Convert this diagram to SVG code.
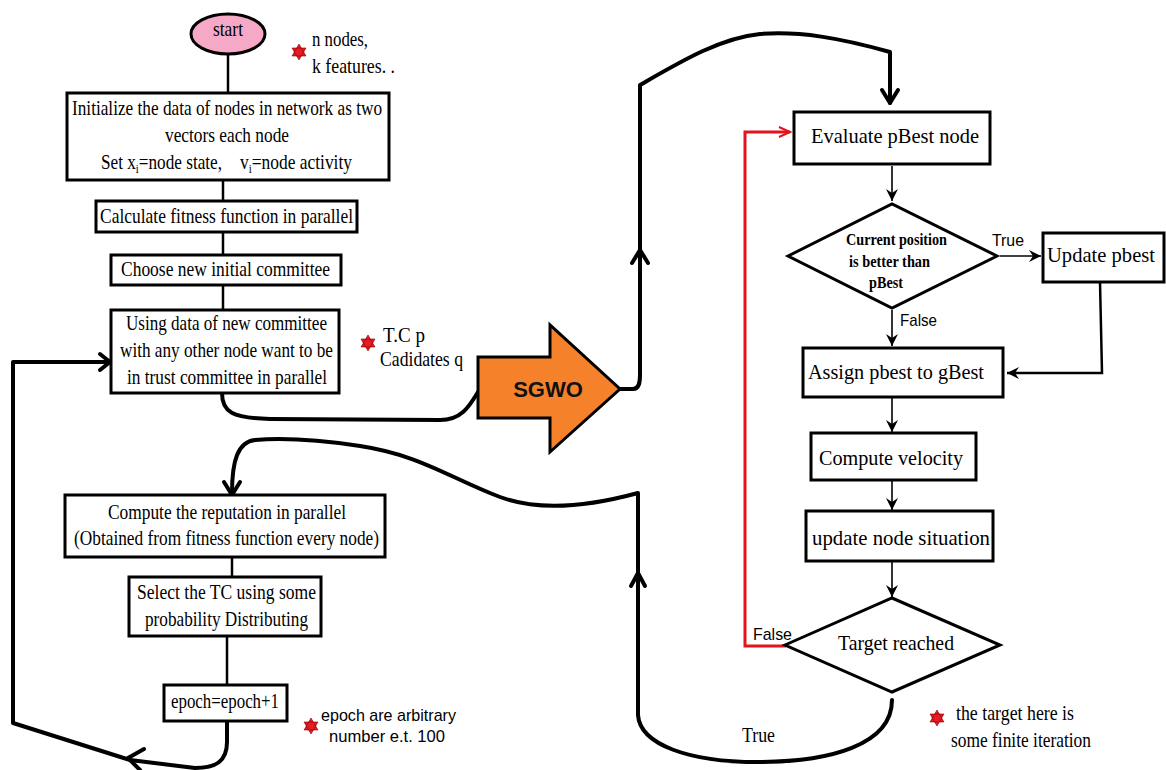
<svg xmlns="http://www.w3.org/2000/svg" xmlns:xlink="http://www.w3.org/1999/xlink" width="1166" height="770" viewBox="0 0 1166 770">
<style>
.box{fill:#fff;stroke:#000;stroke-width:3}
.t{font-family:"Liberation Serif",serif;font-size:21px;fill:#000}
.tb{font-family:"Liberation Serif",serif;font-size:17px;font-weight:bold;fill:#000}
.s{font-family:"Liberation Sans",sans-serif;font-size:17px;fill:#000}
.big{fill:none;stroke:#000;stroke-width:4;stroke-linecap:round;stroke-linejoin:round}
.thin{fill:none;stroke:#000;stroke-width:2.5}
.fine{fill:none;stroke:#000;stroke-width:1.6}
.red{fill:none;stroke:#e3141b;stroke-width:3}
</style>
<defs>
<path id="star" d="M0,-8 L7,4 L-7,4 Z M0,8 L-7,-4 L7,-4 Z" fill="#e51c23" stroke="#8a0000" stroke-width="0.6" stroke-linejoin="miter"/>
<marker id="ah" markerUnits="userSpaceOnUse" markerWidth="14" markerHeight="14" refX="12" refY="6" orient="auto"><path d="M0,0 L12,6 L0,12 L4,6 Z" fill="#000"/></marker>
<marker id="ahr" markerUnits="userSpaceOnUse" markerWidth="14" markerHeight="14" refX="12" refY="6" orient="auto"><path d="M1,1 L12,6 L1,11" fill="none" stroke="#e3141b" stroke-width="2"/></marker>
</defs>
<rect width="1166" height="770" fill="#fff"/>

<g id="connectors">
<line class="thin" x1="228" y1="53" x2="228" y2="93"/>
<line class="thin" x1="223" y1="180" x2="223" y2="201"/>
<line class="thin" x1="223" y1="232" x2="223" y2="255"/>
<line class="thin" x1="223" y1="285" x2="223" y2="310"/>
<line class="thin" x1="232" y1="557" x2="232" y2="577"/>
<line class="thin" x1="227" y1="636" x2="227" y2="685"/>
<path class="big" d="M222,393 C222,412 232,418 270,419 L440,420 C462,420 470,405 478,392"/>
<path class="big" d="M620,389 L633,389 C639,389 640,383 640,375 L640,85 C680,62 720,38 760,34 C800,31 840,38 890,52 L890,103"/>
<path class="big" d="M882,90 L890,103 L898,90"/>
<path class="big" d="M632,263 L640,250 L648,263"/>
<path class="big" d="M892,700 C892,745 830,762 757,762 C690,762 640,745 638,715 L638,493 C590,506 540,512 500,497 C450,478 420,455 360,446 C320,440 280,438 255,440 C238,442 232,460 232,493"/>
<path class="big" d="M631,586 L638,573 L645,586"/>
<path class="big" d="M224,482 L232,495 L240,482"/>
<path class="big" d="M227,721 L227,742 C227,762 215,768 195,768 L130,760 L13,723 L13,362 L108,362"/>
<path class="big" d="M100,354 L110,362 L100,370"/>
<path class="big" d="M144,749 L128,758 L140,770"/>
<line class="fine" x1="892" y1="166" x2="892" y2="201" marker-end="url(#ah)"/>
<line class="fine" x1="1000" y1="256" x2="1041" y2="256" marker-end="url(#ah)"/>
<line class="fine" x1="892" y1="310" x2="892" y2="346" marker-end="url(#ah)"/>
<path class="thin" d="M1100,282 L1102,373 L1007,373" marker-end="url(#ah)"/>
<line class="fine" x1="892" y1="398" x2="892" y2="432" marker-end="url(#ah)"/>
<line class="fine" x1="892" y1="481" x2="892" y2="510" marker-end="url(#ah)"/>
<line class="fine" x1="892" y1="562" x2="892" y2="597" marker-end="url(#ah)"/>
<path class="red" d="M786,646 L745,646 L745,132 L790,132" marker-end="url(#ahr)"/>
<text class="s" x="992" y="246" textLength="32" lengthAdjust="spacingAndGlyphs">True</text>
<text class="s" x="900" y="326" textLength="37" lengthAdjust="spacingAndGlyphs">False</text>
<text class="s" x="753" y="640" textLength="39" lengthAdjust="spacingAndGlyphs">False</text>
<text class="t" x="742" y="742" textLength="33" lengthAdjust="spacingAndGlyphs">True</text>
</g>

<g id="start">
<ellipse cx="228" cy="34" rx="37" ry="20" fill="#f6a9c6" stroke="#000" stroke-width="3"/>
<text class="t" x="213" y="36" font-size="18" textLength="30" lengthAdjust="spacingAndGlyphs">start</text>
</g>

<g id="note1">
<use xlink:href="#star" x="299" y="52"/>
<text class="t" x="312" y="46" textLength="56" lengthAdjust="spacingAndGlyphs">n nodes,</text>
<text class="t" x="312" y="73" textLength="83" lengthAdjust="spacingAndGlyphs">k features. .</text>
</g>

<g id="init">
<rect class="box" x="67" y="93" width="322" height="87"/>
<text class="t" x="72" y="115" textLength="310" lengthAdjust="spacingAndGlyphs">Initialize the data of nodes in network as two</text>
<text class="t" x="165" y="142" textLength="124" lengthAdjust="spacingAndGlyphs">vectors each node</text>
<text class="t" x="101" y="169" textLength="121" lengthAdjust="spacingAndGlyphs">Set x<tspan font-size="13" dy="4">i</tspan><tspan dy="-4">=node state,</tspan></text>
<text class="t" x="240" y="169" textLength="112" lengthAdjust="spacingAndGlyphs">v<tspan font-size="13" dy="4">i</tspan><tspan dy="-4">=node activity</tspan></text>
</g>

<g id="fitness">
<rect class="box" x="96" y="201" width="261" height="31"/>
<text class="t" x="100" y="223" textLength="253" lengthAdjust="spacingAndGlyphs">Calculate fitness function in parallel</text>
</g>

<g id="choose">
<rect class="box" x="111" y="255" width="230" height="30"/>
<text class="t" x="121" y="276" textLength="209" lengthAdjust="spacingAndGlyphs">Choose new initial  committee</text>
</g>

<g id="using">
<rect class="box" x="111" y="310" width="228" height="83"/>
<text class="t" x="126" y="330" textLength="201" lengthAdjust="spacingAndGlyphs">Using data of new committee</text>
<text class="t" x="120" y="357" textLength="213" lengthAdjust="spacingAndGlyphs">with any other node want to be</text>
<text class="t" x="127" y="384" textLength="200" lengthAdjust="spacingAndGlyphs">in trust committee in parallel</text>
</g>

<g id="note2">
<use xlink:href="#star" x="368" y="343"/>
<text class="t" x="383" y="342" textLength="42" lengthAdjust="spacingAndGlyphs">T.C p</text>
<text class="t" x="380" y="366" textLength="83" lengthAdjust="spacingAndGlyphs">Cadidates q</text>
</g>

<g id="sgwo">
<path d="M478,357 L550,357 L550,325 L620,389 L550,452 L550,418 L478,418 Z" fill="#f5822a" stroke="#000" stroke-width="3" stroke-linejoin="miter"/>
<text x="548" y="397" font-family="Liberation Sans, sans-serif" font-size="22" font-weight="bold" fill="#111" text-anchor="middle">SGWO</text>
</g>

<g id="reputation">
<rect class="box" x="65" y="495" width="320" height="62"/>
<text class="t" x="108" y="519" textLength="238" lengthAdjust="spacingAndGlyphs">Compute the reputation in parallel</text>
<text class="t" x="74" y="545" textLength="305" lengthAdjust="spacingAndGlyphs">(Obtained from fitness function every node)</text>
</g>

<g id="select">
<rect class="box" x="129" y="577" width="192" height="59"/>
<text class="t" x="137" y="599" textLength="179" lengthAdjust="spacingAndGlyphs">Select the TC using some</text>
<text class="t" x="145" y="626" textLength="163" lengthAdjust="spacingAndGlyphs">probability Distributing</text>
</g>

<g id="epoch">
<rect class="box" x="164" y="685" width="123" height="36"/>
<text class="t" x="171" y="708" textLength="108" lengthAdjust="spacingAndGlyphs">epoch=epoch+1</text>
</g>

<g id="note3">
<use xlink:href="#star" x="311" y="726"/>
<text class="s" x="321" y="721" font-size="18" textLength="135" lengthAdjust="spacingAndGlyphs">epoch are arbitrary</text>
<text class="s" x="329" y="742" font-size="18" textLength="116" lengthAdjust="spacingAndGlyphs">number e.t. 100</text>
</g>

<g id="evaluate">
<rect class="box" x="794" y="112" width="196" height="52"/>
<text class="t" x="811" y="143" font-size="24" textLength="168" lengthAdjust="spacingAndGlyphs">Evaluate pBest node</text>
</g>

<g id="decision1">
<path d="M788,256 L892,204 L997,256 L892,308 Z" fill="#fff" stroke="#000" stroke-width="3"/>
<text class="tb" x="846" y="245" textLength="101" lengthAdjust="spacingAndGlyphs">Current position</text>
<text class="tb" x="849" y="267" textLength="81" lengthAdjust="spacingAndGlyphs">is better than</text>
<text class="tb" x="869" y="288" textLength="34" lengthAdjust="spacingAndGlyphs">pBest</text>
</g>

<g id="updatepbest">
<rect class="box" x="1043" y="233" width="121" height="49"/>
<text class="t" x="1047" y="262" font-size="24" textLength="108" lengthAdjust="spacingAndGlyphs">Update pbest</text>
</g>

<g id="assign">
<rect class="box" x="803" y="348" width="200" height="49"/>
<text class="t" x="808" y="379" font-size="24" textLength="176" lengthAdjust="spacingAndGlyphs">Assign pbest to gBest</text>
</g>

<g id="velocity">
<rect class="box" x="811" y="433" width="165" height="47"/>
<text class="t" x="819" y="465" font-size="24" textLength="144" lengthAdjust="spacingAndGlyphs">Compute velocity</text>
</g>

<g id="situation">
<rect class="box" x="806" y="511" width="187" height="50"/>
<text class="t" x="812" y="545" font-size="24" textLength="178" lengthAdjust="spacingAndGlyphs">update node situation</text>
</g>

<g id="target">
<path d="M785,645 L892,598 L1000,645 L892,692 Z" fill="#fff" stroke="#000" stroke-width="3"/>
<text class="t" x="838" y="650" textLength="116" lengthAdjust="spacingAndGlyphs">Target reached</text>
</g>

<g id="note4">
<use xlink:href="#star" x="937" y="718"/>
<text class="t" x="956" y="720" textLength="118" lengthAdjust="spacingAndGlyphs">the target here is</text>
<text class="t" x="951" y="747" textLength="140" lengthAdjust="spacingAndGlyphs">some finite iteration</text>
</g>
</svg>
